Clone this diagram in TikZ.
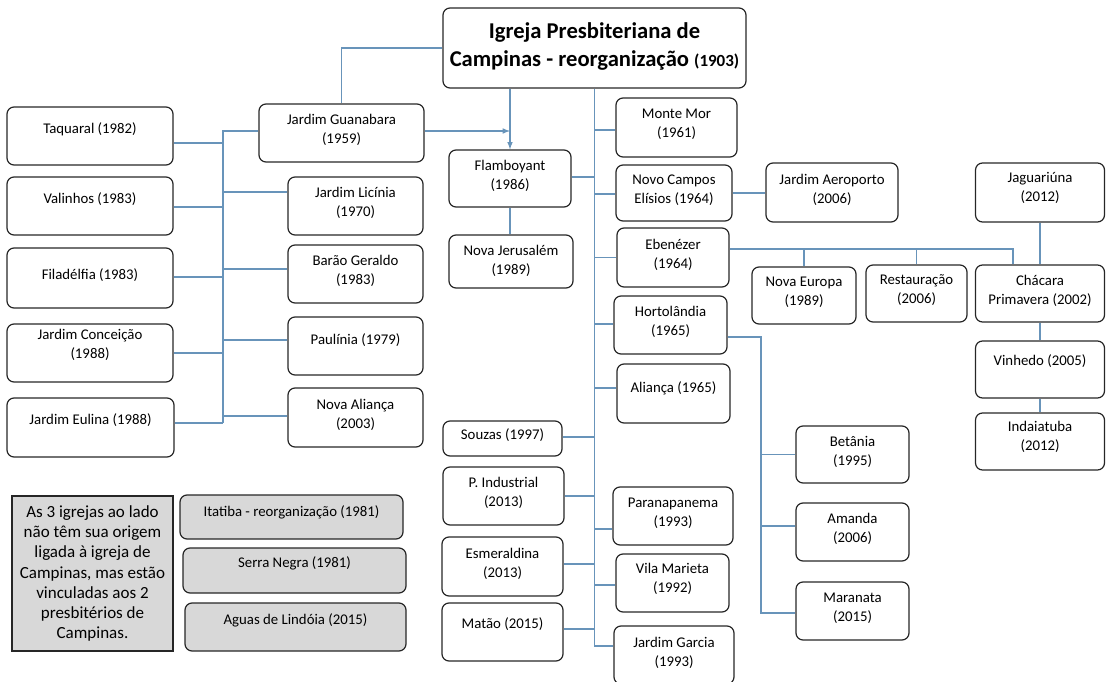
\documentclass[tikz,border=0pt]{standalone}
\usepackage{fontspec}
\setmainfont{Carlito}
\usepackage{tikz}
\usetikzlibrary{arrows}
\definecolor{lblue}{RGB}{104,148,186}
\definecolor{boxgray}{RGB}{216,216,216}

\tikzset{
  box/.style={draw=black!85, line width=1.2pt, rounded corners=7pt, inner sep=0pt},
  lbl/.style={align=center, font=\fontsize{14.8}{19}\selectfont},
  link/.style={lblue, line width=1.5pt},
}

% box with its label a little above the centre
\newcommand{\church}[7][3]{%
  \node[box, minimum width=#5pt, minimum height=#6pt] (#2) at (#3,#4) {};
  \node[lbl, yshift=#1pt] at (#2.center) {#7};
}

\begin{document}
\begin{tikzpicture}[x=1pt, y=-1pt]
    \useasboundingbox (0,0) rectangle (1106,682);

    \node[box, minimum width=303pt, minimum height=80pt] (root) at (594.5,48) {};
    \node[align=center, font=\bfseries\fontsize{22.6}{28}\selectfont, yshift=2pt] at (root.center)
      {Igreja Presbiteriana de\\Campinas - reorganização {\fontsize{17}{28}\selectfont(1903)}};

    % left side
    \church[7]{taquaral}{90}{136}{166}{58}{Taquaral (1982)}
    \church{jguanabara}{341.5}{133}{165}{58}{Jardim Guanabara\\(1959)}
    \church[7]{valinhos}{90}{206}{166}{58}{Valinhos (1983)}
    \church{jlicinia}{355.5}{206}{135}{58}{Jardim Licínia\\(1970)}
    \church{filadelfia}{90}{278}{166}{60}{Filadélfia (1983)}
    \church{baraogeraldo}{355.5}{274}{135}{58}{Barão Geraldo\\(1983)}
    \church[8]{jconceicao}{90}{353}{166}{58}{Jardim Conceição\\(1988)}
    \church[6]{paulinia}{355.5}{346}{135}{58}{Paulínia (1979)}
    \church[7]{jeulina}{90.5}{427.5}{167}{59}{Jardim Eulina (1988)}
    \church{novaalianca}{355.5}{417.5}{135}{59}{Nova Aliança\\(2003)}

    \node[draw=black!85, line width=1.2pt, fill=boxgray, minimum width=161pt, minimum height=155pt,
      inner sep=0pt, align=center, font=\fontsize{17}{20.2}\selectfont] (note) at (92.5,573.5)
      {As 3 igrejas ao lado\\não têm sua origem\\ligada à igreja de\\Campinas, mas estão\\vinculadas aos 2\\presbitérios de\\Campinas.};
    \begin{scope}[box/.append style={fill=boxgray}]
      \church[5]{itatiba}{291.5}{517}{223}{44}{Itatiba - reorganização (1981)}
      \church[7]{serranegra}{294.5}{570.5}{223}{45}{Serra Negra (1981)}
      \church[7]{aguas}{295.5}{627}{221}{48}{Aguas de Lindóia (2015)}
    \end{scope}

    % middle
    \church{flamboyant}{510}{178.5}{122}{57}{Flamboyant\\(1986)}
    \church[1]{novajerusalem}{511}{261.5}{124}{53}{Nova Jerusalém\\(1989)}
    \church[3]{souzas}{502.5}{438.5}{119}{35}{Souzas (1997)}
    \church{pindustrial}{503.5}{496}{121}{58}{P. Industrial\\(2013)}
    \church{esmeraldina}{502.5}{566.5}{121}{59}{Esmeraldina\\(2013)}
    \church[8]{matao}{502.5}{632}{121}{58}{Matão (2015)}

    \church{montemor}{676.5}{127.5}{121}{59}{Monte Mor\\(1961)}
    \church{novocampos}{674}{193}{116}{56}{Novo Campos\\Elísios (1964)}
    \church{ebenezer}{673}{257.5}{112}{59}{Ebenézer\\(1964)}
    \church{hortolandia}{670.5}{325}{113}{58}{Hortolândia\\(1965)}
    \church[5]{alianca}{673.5}{393.5}{113}{59}{Aliança (1965)}
    \church{paranapanema}{673}{516}{120}{58}{Paranapanema\\(1993)}
    \church[4]{vilamarieta}{672.5}{583}{113}{58}{Vila Marieta\\(1992)}
    \church[2]{jgarcia}{674}{655}{120}{58}{Jardim Garcia\\(1993)}

    % right side
    \church{jaeroporto}{832}{192.5}{132}{59}{Jardim Aeroporto\\(2006)}
    \church{novaeuropa}{804}{295.5}{104}{57}{Nova Europa\\(1989)}
    \church{restauracao}{916.5}{293.5}{101}{57}{Restauração\\(2006)}
    \church{chacara}{1040}{293.5}{129}{57}{Chácara\\Primavera (2002)}
    \church[4.5]{jaguariuna}{1040}{192.5}{129}{59}{Jaguariúna\\(2012)}
    \church[8]{vinhedo}{1040}{369.5}{129}{57}{Vinhedo (2005)}
    \church[4.5]{indaiatuba}{1040}{441.5}{129}{57}{Indaiatuba\\(2012)}
    \church{betania}{852.5}{454.5}{113}{57}{Betânia\\(1995)}
    \church{amanda}{852.5}{532}{113}{58}{Amanda\\(2006)}
    \church{maranata}{852.5}{611}{113}{58}{Maranata\\(2015)}

    % connectors
    \coordinate (lbus) at (223,131);
    \coordinate (lbusend) at (223,423);
    \coordinate (rbus) at (761,0);
    \coordinate (ebus) at ([yshift=8.5pt]ebenezer.east);

    \draw[link] (root.west) -| (jguanabara.north);
    \draw[link] ([yshift=2pt]jguanabara.west) -- (lbus) -- (lbusend);
    \foreach \n/\s in {taquaral/-7pt, valinhos/-1pt, filadelfia/1pt, jconceicao/0pt, jeulina/4.5pt}
      \draw[link] ([yshift=\s]\n.east) -- ([yshift=\s]\n.east -| lbus);
    \foreach \n/\s in {jlicinia/14pt, baraogeraldo/5pt, paulinia/6pt, novaalianca/1.5pt}
      \draw[link] ([yshift=\s]\n.west) -- ([yshift=\s]\n.west -| lbus);

    \draw[link, -latex] ([yshift=2pt]jguanabara.east) -- ([yshift=2pt]jguanabara.east -| flamboyant.north);
    \draw[link, -latex] (root.south -| flamboyant.north) -- (flamboyant.north);
    \draw[link] (flamboyant.south) -- (flamboyant.south |- novajerusalem.north);

    \draw[link] (root.south) |- ([yshift=9pt]jgarcia.west);
    \foreach \n/\s in {flamboyant/1.5pt, souzas/1.5pt, pindustrial/0pt, esmeraldina/2.5pt, matao/3pt}
      \draw[link] ([yshift=\s]\n.east) -- ([yshift=\s]\n.east -| root.south);
    \foreach \n/\s in {montemor/-2.5pt, novocampos/-1pt, ebenezer/0pt, hortolandia/1pt, alianca/5.5pt, paranapanema/-13pt, vilamarieta/-2pt}
      \draw[link] ([yshift=\s]\n.west) -- ([yshift=\s]\n.west -| root.south);

    \draw[link] (novocampos.east) -- (novocampos.east -| jaeroporto.west);
    \draw[link] (ebus) -| ([xshift=-27pt]chacara.north);
    \draw[link] (novaeuropa.north) -- (novaeuropa.north |- ebus);
    \draw[link] (restauracao.north) -- (restauracao.north |- ebus);
    \draw[link] (jaguariuna.south) -- (chacara.north);
    \draw[link] (chacara.south) -- (vinhedo.north);
    \draw[link] (vinhedo.south) -- (indaiatuba.north);

    \draw[link] ([yshift=-12pt]hortolandia.east) -| ([yshift=-2pt]maranata.west -| rbus) -- ([yshift=-2pt]maranata.west);
    \foreach \n/\s in {betania/0pt, amanda/6pt}
      \draw[link] ([yshift=\s]\n.west) -- ([yshift=\s]\n.west -| rbus);
  \end{tikzpicture}
\end{document}
